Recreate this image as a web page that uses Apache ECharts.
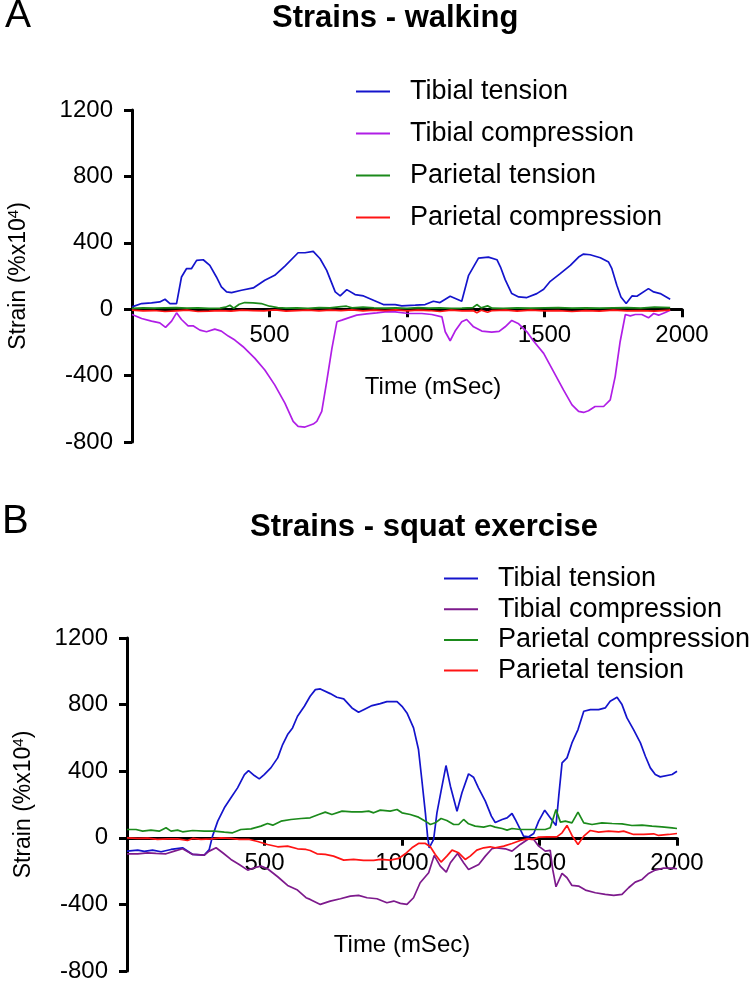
<!DOCTYPE html>
<html>
<head>
<meta charset="utf-8">
<script src="https://cdn.jsdelivr.net/npm/echarts@6/dist/echarts.min.js"></script>
<style>
  html, body { margin: 0; padding: 0; background: #fff; }
  #chart { width: 750px; height: 981px; }
</style>
</head>
<body>
<div id="chart"></div>
<script>
// Panel A - walking, [time mSec, strain]
var walkTibialTension = [[0,14],[35,34],[71,38],[101,44],[120,60],[138,34],[162,34],[180,194],[198,244],[216,244],[235,294],[259,298],[283,264],[307,194],[325,134],[344,104],[362,100],[398,114],[441,128],[483,174],[519,204],[556,260],[604,340],[629,340],[659,348],[684,304],[708,234],[739,104],[757,80],[781,118],[811,88],[842,80],[878,54],[914,28],[957,28],[981,20],[1030,24],[1066,28],[1096,48],[1120,40],[1157,78],[1199,48],[1224,204],[1260,308],[1296,314],[1327,298],[1340,254],[1357,178],[1381,94],[1406,74],[1436,70],[1472,94],[1497,120],[1521,168],[1557,214],[1594,264],[1624,314],[1642,332],[1666,328],[1703,310],[1733,284],[1745,244],[1763,144],[1778,74],[1797,34],[1818,80],[1836,78],[1878,124],[1897,104],[1921,94],[1957,60]];
var walkTibialCompression = [[0,-32],[35,-56],[71,-72],[101,-82],[122,-110],[144,-72],[162,-22],[180,-62],[204,-100],[222,-100],[247,-126],[271,-136],[301,-120],[325,-132],[350,-162],[374,-186],[404,-226],[447,-296],[483,-366],[519,-456],[556,-566],[586,-676],[604,-706],[629,-710],[659,-692],[672,-676],[690,-616],[708,-436],[727,-236],[745,-76],[763,-66],[787,-52],[817,-36],[854,-28],[890,-22],[920,-16],[957,-16],[1005,-26],[1054,-26],[1090,-32],[1127,-46],[1139,-136],[1157,-190],[1175,-132],[1199,-76],[1217,-62],[1242,-106],[1272,-132],[1308,-138],[1335,-134],[1357,-106],[1381,-68],[1406,-88],[1436,-136],[1460,-192],[1497,-266],[1533,-376],[1569,-486],[1600,-576],[1624,-616],[1642,-622],[1660,-612],[1684,-586],[1715,-586],[1739,-546],[1757,-406],[1775,-196],[1794,-32],[1812,-40],[1830,-32],[1854,-32],[1878,-52],[1897,-26],[1915,-36],[1939,-20],[1957,-6]];
var walkParietalTension = [[0,5],[40,8],[80,6],[120,8],[160,10],[200,6],[240,8],[280,5],[320,6],[340,12],[356,24],[370,6],[390,30],[410,40],[440,38],[470,34],[500,18],[530,10],[560,6],[600,8],[640,5],[680,10],[720,8],[760,16],[780,18],[800,8],[840,12],[880,8],[920,6],[960,8],[1000,5],[1040,10],[1080,6],[1120,8],[1160,5],[1200,6],[1240,10],[1254,28],[1270,8],[1293,20],[1310,6],[1350,5],[1400,8],[1450,6],[1500,8],[1550,10],[1600,6],[1650,8],[1700,6],[1750,8],[1800,10],[1850,6],[1900,12],[1957,10]];
var walkParietalCompression = [[0,-6],[40,-10],[80,-8],[120,-14],[160,-10],[200,-6],[240,-14],[280,-12],[320,-8],[360,-12],[400,-6],[440,-8],[480,-10],[520,-4],[560,-12],[600,-8],[640,-6],[680,-10],[720,-6],[760,-8],[800,-4],[840,-10],[880,-6],[920,-8],[960,-4],[1000,-10],[1040,-6],[1080,-8],[1120,-14],[1160,-6],[1200,-10],[1240,-8],[1254,-22],[1270,-6],[1293,-18],[1310,-8],[1360,-6],[1400,-12],[1450,-6],[1500,-10],[1550,-8],[1600,-14],[1650,-8],[1700,-12],[1750,-6],[1800,-10],[1850,-8],[1900,-12],[1957,-6]];

// Panel B - squat exercise
var squatTibialTension = [[0,-80],[39,-74],[63,-82],[93,-74],[124,-84],[160,-70],[202,-60],[239,-100],[281,-104],[299,-70],[311,10],[330,100],[354,180],[378,240],[402,300],[427,380],[442,404],[463,374],[481,354],[499,380],[523,420],[548,480],[566,560],[584,620],[602,660],[620,730],[645,790],[666,850],[685,890],[703,894],[739,866],[763,844],[788,834],[818,780],[842,754],[866,774],[891,794],[921,806],[945,818],[982,818],[1000,790],[1018,750],[1042,660],[1060,530],[1072,350],[1085,150],[1093,10],[1099,-60],[1115,-10],[1127,150],[1142,280],[1160,434],[1176,310],[1200,160],[1218,270],[1242,384],[1260,364],[1278,300],[1303,220],[1325,130],[1339,92],[1364,110],[1382,120],[1400,146],[1412,110],[1430,50],[1442,10],[1461,6],[1479,26],[1497,100],[1519,166],[1539,120],[1560,74],[1570,250],[1582,450],[1600,480],[1618,570],[1640,650],[1661,760],[1685,770],[1715,770],[1739,780],[1757,820],[1782,844],[1800,800],[1818,720],[1842,650],[1867,570],[1885,490],[1903,420],[1921,380],[1939,366],[1982,380],[2000,400]];
var squatTibialCompression = [[0,-96],[39,-96],[75,-90],[105,-94],[142,-96],[172,-80],[202,-66],[239,-100],[281,-104],[299,-80],[324,-60],[348,-90],[378,-130],[408,-160],[439,-194],[463,-180],[487,-170],[511,-186],[548,-234],[584,-286],[620,-314],[651,-360],[666,-370],[703,-400],[739,-380],[776,-366],[812,-350],[842,-346],[873,-360],[909,-366],[945,-390],[970,-380],[994,-394],[1018,-400],[1042,-360],[1066,-270],[1097,-210],[1117,-106],[1139,-170],[1161,-206],[1176,-150],[1202,-94],[1224,-150],[1242,-190],[1279,-160],[1303,-110],[1327,-66],[1345,-60],[1376,-66],[1400,-80],[1430,-40],[1461,-6],[1479,-10],[1497,-50],[1521,-80],[1539,-76],[1548,-190],[1560,-294],[1582,-214],[1600,-240],[1618,-286],[1642,-290],[1667,-314],[1703,-330],[1739,-340],[1770,-346],[1800,-340],[1824,-300],[1848,-266],[1873,-250],[1897,-214],[1921,-194],[1951,-182],[1982,-182],[2000,-186]];
var squatParietalCompression = [[0,50],[33,50],[57,40],[87,46],[117,40],[142,60],[160,40],[184,46],[202,36],[239,44],[281,40],[317,40],[354,34],[384,30],[414,50],[451,54],[487,70],[511,86],[530,76],[560,100],[596,110],[633,116],[666,120],[697,140],[721,154],[745,140],[782,160],[818,156],[854,156],[879,160],[897,150],[921,166],[957,160],[982,170],[1000,150],[1030,140],[1060,124],[1085,100],[1103,80],[1121,90],[1142,116],[1163,104],[1188,80],[1206,80],[1224,110],[1242,84],[1266,70],[1297,64],[1321,74],[1339,64],[1364,56],[1382,46],[1400,56],[1430,50],[1461,50],[1497,50],[1521,50],[1539,60],[1560,170],[1576,94],[1594,100],[1618,90],[1640,154],[1661,90],[1691,80],[1727,90],[1764,86],[1800,84],[1836,74],[1873,76],[1909,70],[1945,66],[1982,60],[2000,56]];
var squatParietalTension = [[0,0],[39,-4],[75,-2],[111,-10],[148,-6],[184,-6],[220,-16],[239,-4],[269,-10],[305,-6],[342,0],[378,-4],[408,-10],[445,-10],[475,-22],[511,-40],[548,-54],[584,-50],[620,-66],[651,-70],[666,-76],[691,-96],[721,-100],[751,-110],[788,-134],[824,-130],[860,-136],[897,-136],[921,-130],[957,-134],[988,-124],[1012,-96],[1036,-60],[1060,-34],[1085,-34],[1103,-54],[1121,-100],[1142,-146],[1163,-110],[1182,-74],[1206,-90],[1230,-130],[1248,-110],[1272,-74],[1297,-60],[1321,-54],[1339,-60],[1370,-50],[1400,-34],[1430,-16],[1455,-6],[1473,-10],[1497,4],[1527,6],[1563,6],[1582,30],[1600,74],[1618,14],[1640,-40],[1661,10],[1685,44],[1715,34],[1751,40],[1788,36],[1806,40],[1842,20],[1879,20],[1915,24],[1933,14],[1970,20],[2000,26]];

var yTicks = [-800, -400, 0, 400, 800, 1200];
var xTicks = [0, 500, 1000, 1500, 2000];

var FONT = "'Liberation Sans', Arial, Helvetica, sans-serif";
var BLUE = '#1414cc', VIOLET = '#b01ee6', GREEN = '#1b8a1b', RED = '#ff1414', PURPLE = '#7d1a8c';

var grids = [
    { left: 132, top: 110, width: 550, height: 332, outerBoundsMode: 'none' },
    { left: 127, top: 638, width: 550, height: 333, outerBoundsMode: 'none' }
];

// the time axis sits on strain = 0, so lift it from the grid bottom by that share of the height
function zeroOffset(g) {
    var lo = yTicks[0], hi = yTicks[yTicks.length - 1];
    return -g.height * (0 - lo) / (hi - lo);
}

function xAxisFor(gridIndex, nameGap, namePad) {
    return {
        type: 'value', gridIndex: gridIndex,
        min: xTicks[0], max: xTicks[xTicks.length - 1], interval: 500,
        offset: zeroOffset(grids[gridIndex]),
        name: 'Time (mSec)', nameLocation: 'middle', nameGap: nameGap,
        nameTextStyle: { fontFamily: FONT, fontSize: 24, color: '#000', padding: namePad },
        axisLine: { onZero: false, lineStyle: { color: '#000', width: 3 } },
        axisTick: { show: true, length: 8, lineStyle: { color: '#000', width: 3 } },
        axisLabel: {
            margin: 14, fontFamily: FONT, fontSize: 24, color: '#000',
            formatter: function (v) { return v === 0 ? '' : String(v); }
        },
        splitLine: { show: false }
    };
}

function yAxisFor(gridIndex, nameGap) {
    return {
        type: 'value', gridIndex: gridIndex,
        min: yTicks[0], max: yTicks[yTicks.length - 1], interval: 400,
        name: '{a|Strain (%x10}{s|4}{a|)}', nameLocation: 'middle', nameGap: nameGap,
        nameTextStyle: {
            rich: {
                a: { fontFamily: FONT, fontSize: 23, color: '#000' },
                s: { fontFamily: FONT, fontSize: 15, color: '#000', verticalAlign: 'top', padding: [0, 0, 10, 0] }
            }
        },
        axisLine: { show: true, onZero: false, lineStyle: { color: '#000', width: 3 } },
        axisTick: { show: true, length: 8, lineStyle: { color: '#000', width: 3 } },
        axisLabel: {
            margin: 19, fontFamily: FONT, fontSize: 24, color: '#000',
            formatter: function (v) { return String(v); }
        },
        splitLine: { show: false }
    };
}

function line(name, data, color, idx) {
    return {
        name: name, type: 'line', data: data,
        xAxisIndex: idx, yAxisIndex: idx,
        showSymbol: false, symbol: 'none',
        lineStyle: { color: color, width: 1.7 },
        itemStyle: { color: color },
        emphasis: { disabled: true }
    };
}

function legendFor(top, left, itemGap, items) {
    return {
        orient: 'vertical', top: top, left: left, itemGap: itemGap,
        icon: 'rect', itemWidth: 34, itemHeight: 2,
        textStyle: { fontFamily: FONT, fontSize: 27, color: '#000', padding: [0, 0, 0, 15], lineHeight: 27 },
        selectedMode: false,
        data: items.map(function (it) { return { name: it[0], itemStyle: { color: it[1] } }; })
    };
}

var chart = echarts.init(document.getElementById('chart'));
chart.setOption({
    animation: false,
    backgroundColor: '#fff',
    title: [
        { text: 'A', left: 5, top: -3, padding: 0, textStyle: { fontFamily: FONT, fontSize: 39, fontWeight: 'normal', color: '#000' } },
        { text: 'Strains - walking', left: 272, top: 3, padding: 0, textStyle: { fontFamily: FONT, fontSize: 31, fontWeight: 'bold', color: '#000' } },
        { text: 'B', left: 2, top: 502, padding: 0, textStyle: { fontFamily: FONT, fontSize: 40, fontWeight: 'normal', color: '#000' } },
        { text: 'Strains - squat exercise', left: 250, top: 512, padding: 0, textStyle: { fontFamily: FONT, fontSize: 31, fontWeight: 'bold', color: '#000' } }
    ],
    legend: [
        legendFor(73, 351, 15, [['Tibial tension', BLUE], ['Tibial compression', VIOLET], ['Parietal tension', GREEN], ['Parietal compression', RED]]),
        legendFor(560, 439, 3.7, [['Tibial tension', BLUE], ['Tibial compression', PURPLE], ['Parietal compression', GREEN], ['Parietal tension', RED]])
    ],
    grid: grids,
    xAxis: [xAxisFor(0, 66, [0, 0, 0, 52]), xAxisFor(1, 96, [0, 0, 0, 0])],
    yAxis: [yAxisFor(0, 101), yAxisFor(1, 91)],
    series: [
        line('Tibial tension', walkTibialTension, BLUE, 0),
        line('Tibial compression', walkTibialCompression, VIOLET, 0),
        line('Parietal tension', walkParietalTension, GREEN, 0),
        line('Parietal compression', walkParietalCompression, RED, 0),
        line('Tibial tension', squatTibialTension, BLUE, 1),
        line('Tibial compression', squatTibialCompression, PURPLE, 1),
        line('Parietal compression', squatParietalCompression, GREEN, 1),
        line('Parietal tension', squatParietalTension, RED, 1)
    ]
});
</script>
</body>
</html>
